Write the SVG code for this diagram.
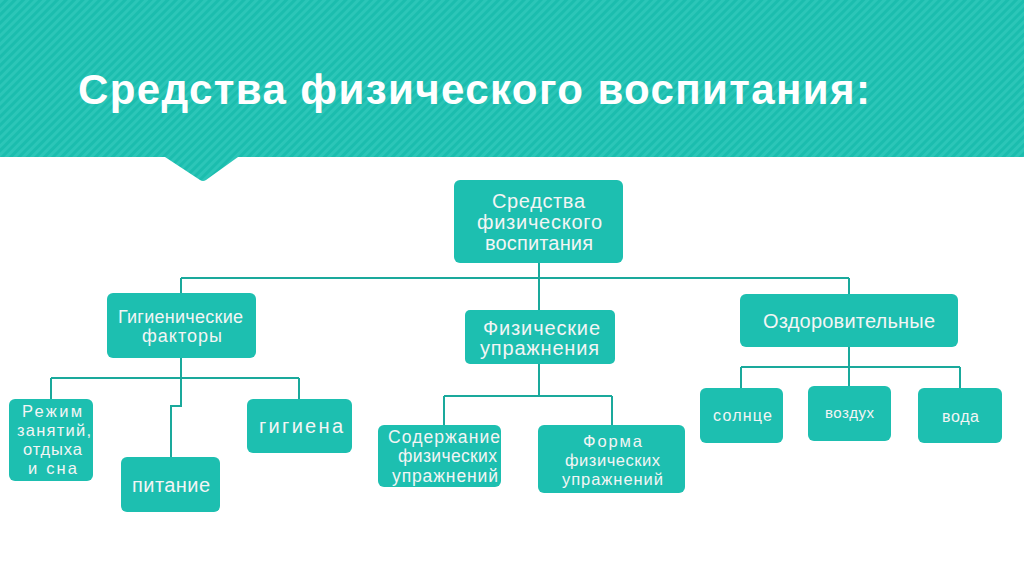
<svg xmlns="http://www.w3.org/2000/svg" width="1024" height="574" viewBox="0 0 1024 574">
<style>
.node rect{fill:#1dbfb0;}
.node text{fill:#f3f5f5;font-family:"Liberation Sans",Arial,sans-serif;text-anchor:middle;}
.conn path{fill:none;stroke:#1aa99c;stroke-width:2;}
.title{fill:#ffffff;font-family:"Liberation Sans",Arial,sans-serif;font-weight:bold;font-size:42px;}
</style>
<defs>
<pattern id="stripes" patternUnits="userSpaceOnUse" width="6" height="6" patternTransform="rotate(45)">
<rect width="6" height="6" fill="#1bbdae"/>
<rect width="3" height="6" fill="#2cc6b8"/>
</pattern>
</defs>
<rect width="1024" height="574" fill="#ffffff"/>
<path d="M0 0H1024V157H238L206 180Q203 182 200 180L165 157H0Z" fill="url(#stripes)"/>
<text class="title" x="78" y="104" textLength="792" lengthAdjust="spacing">Средства физического воспитания:</text>

<g id="connectors" class="conn">
<path d="M539 263V310"/>
<path d="M181 278H849"/>
<path d="M181 278V293"/>
<path d="M849 278V294"/>
<path d="M181 358V378"/>
<path d="M51 378H299"/>
<path d="M51 378V399"/>
<path d="M299 378V399"/>
<path d="M181 378V406H171V457"/>
<path d="M539 364V396"/>
<path d="M444 396H612"/>
<path d="M444 396V425"/>
<path d="M612 396V425"/>
<path d="M849 347V386"/>
<path d="M741 367H960"/>
<path d="M741 367V388"/>
<path d="M960 367V388"/>
</g>

<g id="root" class="node">
<rect x="454" y="180" width="169" height="83" rx="6"/>
<text font-size="20"><tspan x="538.5" y="208" textLength="93">Средства</tspan><tspan x="539.5" y="229" textLength="125">физического</tspan><tspan x="539" y="250" textLength="108">воспитания</tspan></text>
</g>
<g id="hyg" class="node">
<rect x="107" y="293" width="149" height="65" rx="6"/>
<text font-size="18"><tspan x="180.5" y="323" textLength="125">Гигиенические</tspan><tspan x="182" y="342" textLength="80">факторы</tspan></text>
</g>
<g id="phys" class="node">
<rect x="465" y="310" width="150" height="54" rx="5"/>
<text font-size="20"><tspan x="541.5" y="335" textLength="117">Физические</tspan><tspan x="539.5" y="355" textLength="119">упражнения</tspan></text>
</g>
<g id="health" class="node">
<rect x="740" y="294" width="218" height="53" rx="6"/>
<text font-size="20" x="849" y="328" textLength="172">Оздоровительные</text>
</g>
<g id="regime" class="node">
<rect x="9" y="399" width="84" height="82" rx="6"/>
<text font-size="16.5"><tspan x="52" y="417" textLength="60">Режим</tspan><tspan x="54" y="436" textLength="74">занятий,</tspan><tspan x="52.5" y="455" textLength="59">отдыха</tspan><tspan x="52.5" y="474" textLength="49">и сна</tspan></text>
</g>
<g id="food" class="node">
<rect x="121" y="457" width="99" height="55" rx="6"/>
<text font-size="20" x="171" y="492" textLength="78">питание</text>
</g>
<g id="hygiene" class="node">
<rect x="247" y="399" width="105" height="54" rx="6"/>
<text font-size="20" x="301" y="433" textLength="84">гигиена</text>
</g>
<g id="content" class="node">
<rect x="378" y="425" width="123" height="62" rx="6"/>
<text font-size="17.5"><tspan x="444" y="443" textLength="112">Содержание</tspan><tspan x="447.5" y="462" textLength="99">физических</tspan><tspan x="445" y="482" textLength="106">упражнений</tspan></text>
</g>
<g id="form" class="node">
<rect x="538" y="425" width="147" height="68" rx="6"/>
<text font-size="16.5"><tspan x="612.5" y="447" textLength="59">Форма</tspan><tspan x="612.5" y="466" textLength="95">физических</tspan><tspan x="612.5" y="485" textLength="101">упражнений</tspan></text>
</g>
<g id="sun" class="node">
<rect x="700" y="388" width="83" height="55" rx="6"/>
<text font-size="16" x="742.5" y="421" textLength="59">солнце</text>
</g>
<g id="air" class="node">
<rect x="808" y="386" width="83" height="55" rx="6"/>
<text font-size="15" x="849.5" y="418" textLength="49">воздух</text>
</g>
<g id="water" class="node">
<rect x="918" y="388" width="84" height="55" rx="6"/>
<text font-size="16" x="960.5" y="422" textLength="37">вода</text>
</g>
</svg>
